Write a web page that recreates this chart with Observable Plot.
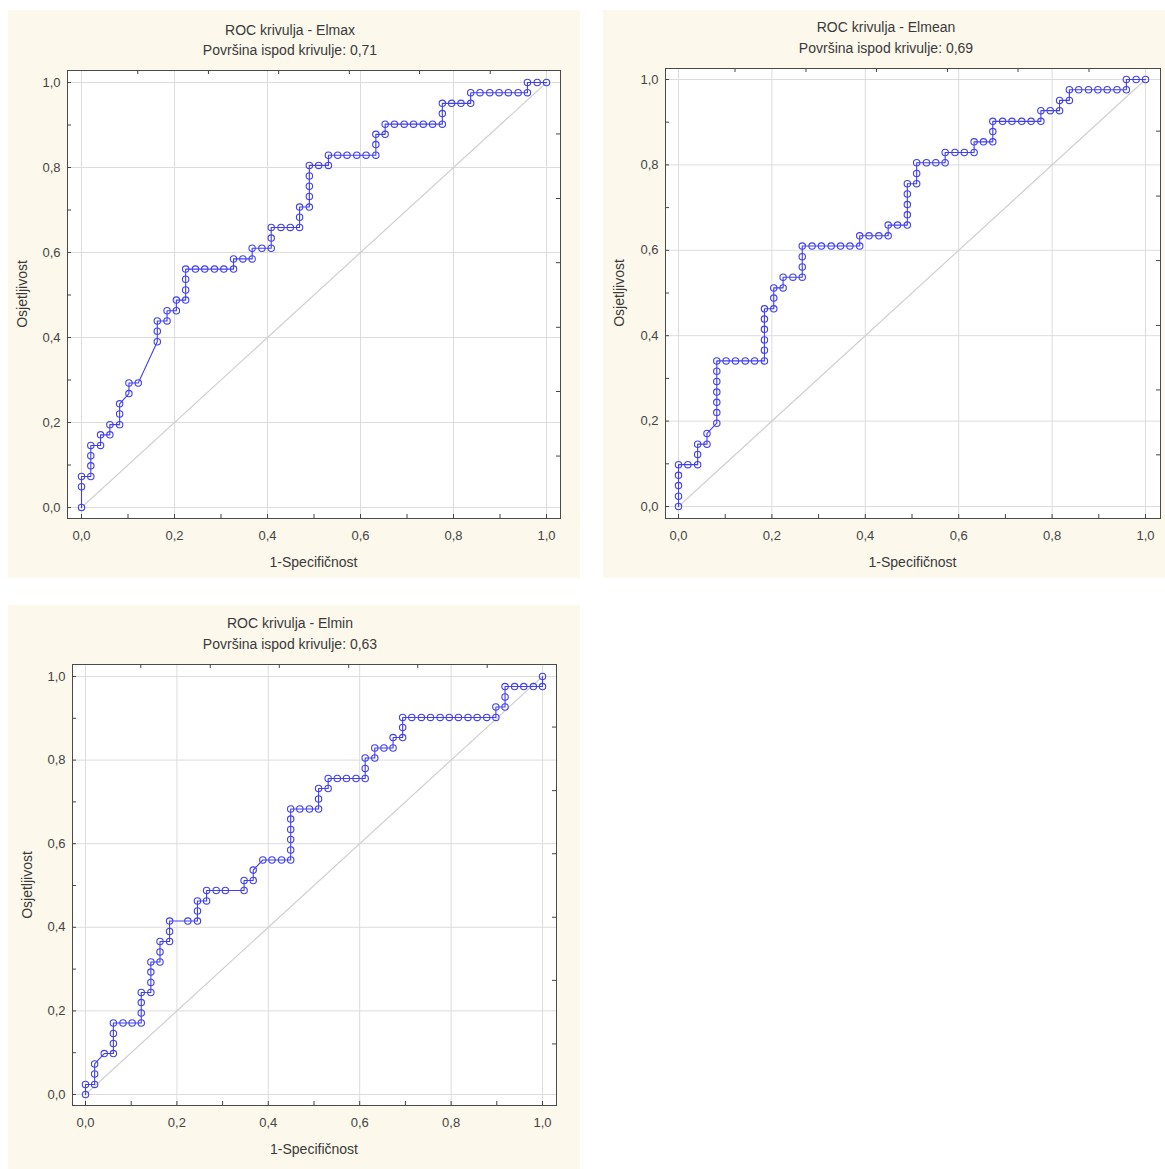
<!DOCTYPE html>
<html><head><meta charset="utf-8">
<script src="https://cdn.jsdelivr.net/npm/d3@7"></script>
<script src="https://cdn.jsdelivr.net/npm/@observablehq/plot@0.6"></script>
<style>
body{margin:0;background:#fff;font-family:"Liberation Sans",Arial,sans-serif;}
#root{position:relative;width:1165px;height:1169px;overflow:hidden;}
.panel{position:absolute;background:#fcf8ec;}
.panel svg{position:absolute;left:0;top:0;}
.t{position:absolute;white-space:nowrap;font-size:14px;color:#3a3a3a;transform:translate(-50%,-50%);}
.yl{transform:translate(-50%,-50%) rotate(-90deg);}
</style></head><body><div id="root"></div>
<script>
// ---- data ----
const elmaxFpr = [0,0,0,0.020,0.020,0.020,0.020,0.041,0.041,0.061,0.061,0.082,0.082,0.082,0.102,0.102,0.122,0.163,0.163,0.163,0.184,0.184,0.204,0.204,0.224,0.224,0.224,0.224,0.245,0.265,0.286,0.306,0.327,0.327,0.347,0.367,0.367,0.388,0.408,0.408,0.408,0.429,0.449,0.469,0.469,0.469,0.490,0.490,0.490,0.490,0.490,0.510,0.531,0.531,0.551,0.571,0.592,0.612,0.633,0.633,0.633,0.653,0.653,0.673,0.694,0.714,0.735,0.755,0.776,0.776,0.776,0.796,0.816,0.837,0.837,0.857,0.878,0.898,0.918,0.939,0.959,0.959,0.980,1.000];
const elmaxTpr = [0,0.049,0.073,0.073,0.098,0.122,0.146,0.146,0.171,0.171,0.195,0.195,0.220,0.244,0.268,0.293,0.293,0.390,0.415,0.439,0.439,0.463,0.463,0.488,0.488,0.512,0.537,0.561,0.561,0.561,0.561,0.561,0.561,0.585,0.585,0.585,0.610,0.610,0.610,0.634,0.659,0.659,0.659,0.659,0.683,0.707,0.707,0.732,0.756,0.780,0.805,0.805,0.805,0.829,0.829,0.829,0.829,0.829,0.829,0.854,0.878,0.878,0.902,0.902,0.902,0.902,0.902,0.902,0.902,0.927,0.951,0.951,0.951,0.951,0.976,0.976,0.976,0.976,0.976,0.976,0.976,1,1,1];

const elmeanFpr = [0,0,0,0,0,0.020,0.041,0.041,0.041,0.061,0.061,0.082,0.082,0.082,0.082,0.082,0.082,0.082,0.102,0.122,0.143,0.163,0.184,0.184,0.184,0.184,0.184,0.184,0.204,0.204,0.204,0.224,0.224,0.245,0.265,0.265,0.265,0.265,0.286,0.306,0.327,0.347,0.367,0.388,0.388,0.408,0.429,0.449,0.449,0.469,0.490,0.490,0.490,0.490,0.490,0.510,0.510,0.510,0.531,0.551,0.571,0.571,0.592,0.612,0.633,0.633,0.653,0.673,0.673,0.673,0.694,0.714,0.735,0.755,0.776,0.776,0.796,0.816,0.816,0.837,0.837,0.857,0.878,0.898,0.918,0.939,0.959,0.959,0.980,1.000];
const elmeanTpr = [0,0.024,0.049,0.073,0.098,0.098,0.098,0.122,0.146,0.146,0.171,0.195,0.220,0.244,0.268,0.293,0.317,0.341,0.341,0.341,0.341,0.341,0.341,0.366,0.390,0.415,0.439,0.463,0.463,0.488,0.512,0.512,0.537,0.537,0.537,0.561,0.585,0.610,0.610,0.610,0.610,0.610,0.610,0.610,0.634,0.634,0.634,0.634,0.659,0.659,0.659,0.683,0.707,0.732,0.756,0.756,0.780,0.805,0.805,0.805,0.805,0.829,0.829,0.829,0.829,0.854,0.854,0.854,0.878,0.902,0.902,0.902,0.902,0.902,0.902,0.927,0.927,0.927,0.951,0.951,0.976,0.976,0.976,0.976,0.976,0.976,0.976,1,1,1];

const elminFpr = [0,0,0.020,0.020,0.020,0.041,0.061,0.061,0.061,0.061,0.082,0.102,0.122,0.122,0.122,0.122,0.143,0.143,0.143,0.143,0.163,0.163,0.163,0.184,0.184,0.184,0.224,0.245,0.245,0.245,0.265,0.265,0.286,0.306,0.347,0.347,0.367,0.367,0.388,0.408,0.429,0.449,0.449,0.449,0.449,0.449,0.449,0.469,0.490,0.510,0.510,0.510,0.531,0.531,0.551,0.571,0.592,0.612,0.612,0.612,0.633,0.633,0.653,0.673,0.673,0.694,0.694,0.694,0.714,0.735,0.755,0.776,0.796,0.816,0.837,0.857,0.878,0.898,0.898,0.918,0.918,0.918,0.939,0.959,0.980,1.000,1.000];
const elminTpr = [0,0.024,0.024,0.049,0.073,0.098,0.098,0.122,0.146,0.171,0.171,0.171,0.171,0.195,0.220,0.244,0.244,0.268,0.293,0.317,0.317,0.341,0.366,0.366,0.390,0.415,0.415,0.415,0.439,0.463,0.463,0.488,0.488,0.488,0.488,0.512,0.512,0.537,0.561,0.561,0.561,0.561,0.585,0.610,0.634,0.659,0.683,0.683,0.683,0.683,0.707,0.732,0.732,0.756,0.756,0.756,0.756,0.756,0.780,0.805,0.805,0.829,0.829,0.829,0.854,0.854,0.878,0.902,0.902,0.902,0.902,0.902,0.902,0.902,0.902,0.902,0.902,0.902,0.927,0.927,0.951,0.976,0.976,0.976,0.976,0.976,1];

const curveNames = ["Elmax", "Elmean", "Elmin"];
const aucLabels = ["0,71", "0,69", "0,63"];
const majorTicks = [0, 0.2, 0.4, 0.6, 0.8, 1.0];
const minorTicks = [0.1, 0.3, 0.5, 0.7, 0.9];
const secondaryTicks = [0.121, 0.273, 0.424, 0.576, 0.727, 0.879];
const diagonal = [0, 1];

// ---- layout ----
const layouts = [
  {box:[8,10,572,568], frame:[67,70,560,518], x0:81, x1:546, y0:507, y1:82, tx:290, t1:30, t2:50, xlab:562, ylabX:22},
  {box:[603,10,562,568], frame:[665,68,1160,518], x0:678, x1:1145, y0:506, y1:79, tx:886, t1:27, t2:48, xlab:562, ylabX:619},
  {box:[8,605,572,564], frame:[72,664,556,1105], x0:85, x1:542, y0:1094, y1:676, tx:290, t1:623, t2:644, xlab:1149, ylabX:27}
];
const series = [[elmaxFpr, elmaxTpr], [elmeanFpr, elmeanTpr], [elminFpr, elminTpr]];
const blue = "#4040f0";
const fmt = d => d3.format(".1f")(d).replace(".", ",");
const root = document.getElementById("root");

layouts.forEach((L, i) => {
  const [bx, by, bw, bh] = L.box;
  const [fl, ft, fr, fb] = L.frame;
  const xd = [(fl - L.x0) / (L.x1 - L.x0), (fr - L.x0) / (L.x1 - L.x0)];
  const yd = [(L.y0 - fb) / (L.y0 - L.y1), (L.y0 - ft) / (L.y0 - L.y1)];
  const pw = fr - fl, ph = fb - ft;
  const [fpr, tpr] = series[i];
  const pts = fpr.map((x, k) => ({x, y: tpr[k]}));
  const diag = diagonal.map(v => ({x: v, y: v}));
  const allTicks = majorTicks.concat(minorTicks);

  const panel = document.createElement("div");
  panel.className = "panel";
  Object.assign(panel.style, {left: bx + "px", top: by + "px", width: bw + "px", height: bh + "px"});

  const chart = Plot.plot({
    width: bw, height: bh,
    marginLeft: fl - bx, marginRight: bx + bw - fr, marginTop: ft - by, marginBottom: by + bh - fb,
    style: {background: "transparent", fontFamily: "Liberation Sans, Arial, sans-serif", fontSize: "13px", color: "#3a3a3a"},
    x: {domain: xd, axis: null},
    y: {domain: yd, axis: null},
    marks: [
      Plot.frame({fill: "white"}),
      Plot.gridX(majorTicks, {stroke: "#dcdcdc", strokeOpacity: 1}),
      Plot.gridY(majorTicks, {stroke: "#dcdcdc", strokeOpacity: 1}),
      Plot.line(diag, {x: "x", y: "y", stroke: "#d0d0d0", strokeWidth: 1.2}),
      Plot.line(pts, {x: "x", y: "y", stroke: blue, strokeWidth: 1.1}),
      Plot.dot(pts, {x: "x", y: "y", r: 3.2, stroke: blue, strokeWidth: 1.1, fill: "none"}),
      Plot.tickX(allTicks, {x: d => d, insetTop: ph - 4, stroke: "#444"}),
      Plot.tickY(allTicks, {y: d => d, insetRight: pw - 4, stroke: "#444"}),
      Plot.tickX(secondaryTicks, {x: d => d, insetBottom: ph - 4, stroke: "#444"}),
      Plot.tickY(secondaryTicks, {y: d => d, insetLeft: pw - 4, stroke: "#444"}),
      Plot.frame({stroke: "#4a4a4a"}),
      Plot.axisX(majorTicks, {tickSize: 0, tickPadding: 12, tickFormat: fmt, label: null, fill: "#444"}),
      Plot.axisY(majorTicks, {tickSize: 0, tickPadding: 7, tickFormat: fmt, label: null, fill: "#444"})
    ]
  });
  panel.appendChild(chart);

  const addText = (txt, x, y, cls) => {
    const d = document.createElement("div");
    d.className = "t" + (cls ? " " + cls : "");
    d.textContent = txt;
    d.style.left = (x - bx) + "px";
    d.style.top = (y - by) + "px";
    panel.appendChild(d);
  };
  addText("ROC krivulja - " + curveNames[i], L.tx, L.t1);
  addText("Površina ispod krivulje: " + aucLabels[i], L.tx, L.t2);
  addText("1-Specifičnost", (fl + fr) / 2, L.xlab);
  addText("Osjetljivost", L.ylabX, (ft + fb) / 2, "yl");
  root.appendChild(panel);
});
</script>
</body></html>
